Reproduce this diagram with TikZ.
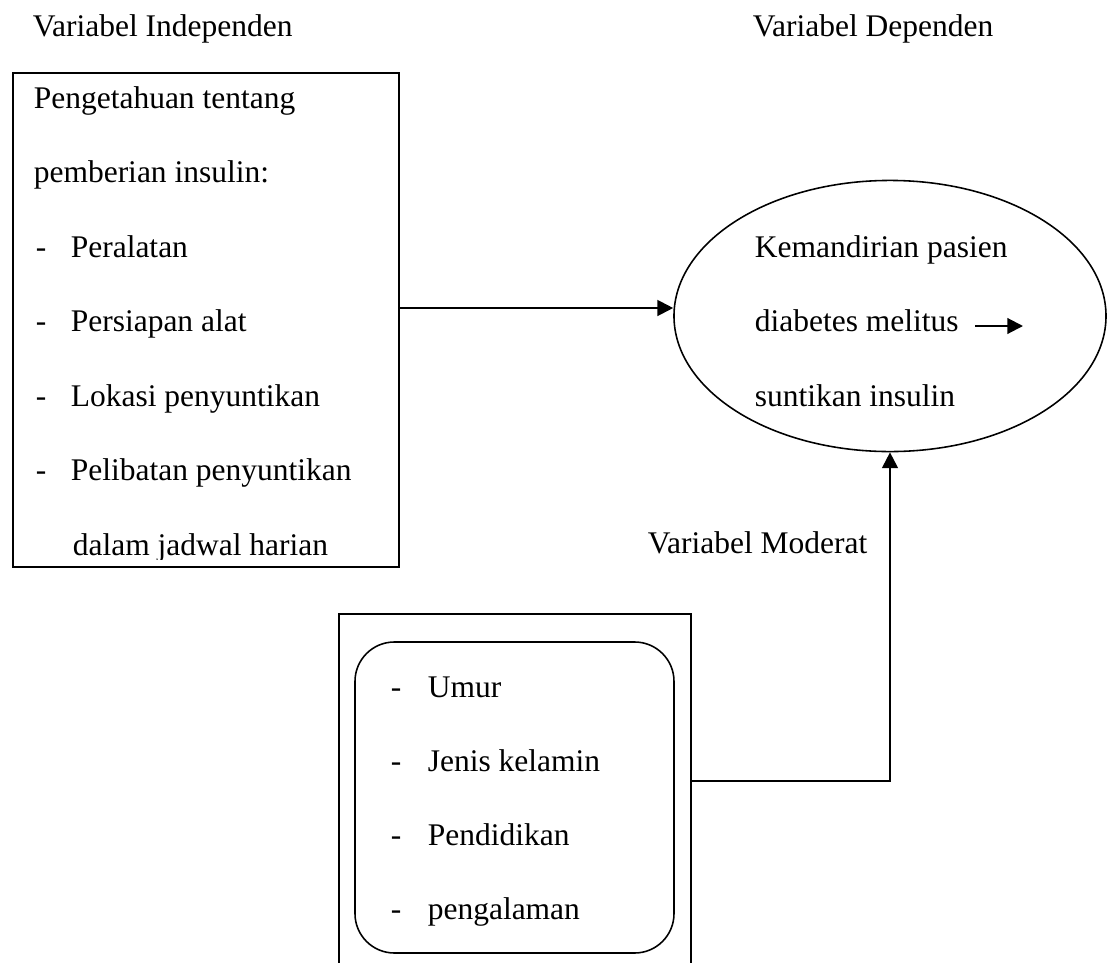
\documentclass[tikz,border=0pt]{standalone}
\usepackage{fontspec}
\setmainfont{Liberation Serif}
\usetikzlibrary{arrows.meta,shapes.geometric,fit}

\begin{document}
\begin{tikzpicture}[x=0.381pt,y=-0.381pt,
    font=\fontsize{12}{14}\selectfont,
    line width=0.6pt,
    txt/.style={anchor=base west,inner sep=0pt},
    frame/.style={draw,inner sep=0pt},
    conn/.style={line width=0.8pt,-{Triangle[length=6pt,width=6pt]}}]
    \clip (0,0) rectangle (1108,963);

    % Headings
    \node[txt] (hind) at (32,36) {Variabel Independen};
    \node[txt] (hdep) at (752,36) {Variabel Dependen};
    \node[txt] (hmod) at (647,553) {Variabel Moderat};

    % Independent box
    \node[frame,fit={(13,73) (399,567)}] (indep) {};
    \begin{scope}
        \clip (13,73) rectangle (399,559);
        \node[txt] (k1) at (33,108) {Pengetahuan tentang};
        \node[txt] (k2) at (33,182.5) {pemberian insulin:};
        \foreach \y/\t [count=\i] in {257/Peralatan,331.5/Persiapan alat,
            406/Lokasi penyuntikan,480.5/Pelibatan penyuntikan} {
            \node[txt] (d\i) at (35,\y) {-};
            \node[txt] (p\i) at (70,\y) {\t};
        }
        \node[txt] (p5) at (72,555) {dalam jadwal harian};
    \end{scope}

    % Dependent ellipse
    \node[draw,ellipse,inner sep=0pt,minimum width=164.6pt,minimum height=103.3pt]
        (dep) at (890,316) {};
    \node[txt] (e1) at (754,257) {Kemandirian pasien};
    \node[txt] (e2) at (754,331.5) {diabetes melitus};
    \node[txt] (e3) at (754,406) {suntikan insulin};
    \coordinate (s1) at (975,326);
    \coordinate (s2) at (1023,326);
    \draw[conn] (s1) -- (s2);

    % Moderating box
    \node[frame,fit={(339,614) (691,995)}] (moder) {};
    \node[frame,rounded corners=15pt,fit={(355,642) (674,953)}] (mlist) {};
    \foreach \y/\t [count=\i] in {697/Umur,771/Jenis kelamin,845/Pendidikan,919/pengalaman} {
        \node[txt] (md\i) at (390,\y) {-};
        \node[txt] (m\i) at (427,\y) {\t};
    }

    % Connectors
    \draw[conn] (indep.east |- 0,308) -- (dep.west |- 0,308);
    \draw[conn] (moder.east |- 0,781) -| (dep.south);
\end{tikzpicture}
\end{document}
